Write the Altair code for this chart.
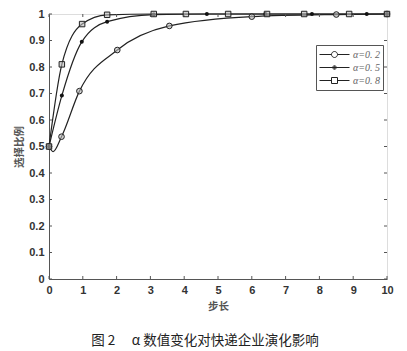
import altair as alt
import pandas as pd

# ---- data ----
labels = ["α=0. 2", "α=0. 5", "α=0. 8"]

x02 = [0, 0.37, 0.90, 2.02, 3.56, 6.0, 8.5, 10]
y02 = [0.5, 0.537, 0.709, 0.864, 0.955, 0.990, 0.998, 1.0]
# extra points on the drawn α=0.2 curve (the small dip just after 0)
x02_curve_extra = [0.12]
y02_curve_extra = [0.481]

x05 = [0, 0.38, 0.97, 1.72, 3.1, 4.67, 6.4, 7.78, 9.4, 10]
y05 = [0.5, 0.692, 0.895, 0.971, 0.998, 1.0, 1.0, 1.0, 1.0, 1.0]

x08 = [0, 0.38, 0.98, 1.72, 3.1, 4.05, 5.3, 6.45, 7.55, 8.88, 10]
y08 = [0.5, 0.81, 0.962, 0.997, 1.0, 1.0, 1.0, 1.0, 1.0, 1.0, 1.0]

x_ticks = list(range(0, 11))
y_ticks = [round(i / 10, 1) for i in range(0, 11)]

# ---- tables ----
pts = pd.concat([
    pd.DataFrame({"x": x02, "y": y02, "s": labels[0]}),
    pd.DataFrame({"x": x05, "y": y05, "s": labels[1]}),
    pd.DataFrame({"x": x08, "y": y08, "s": labels[2]}),
])
curve = pd.concat([
    pd.DataFrame({"x": x02 + x02_curve_extra, "y": y02 + y02_curve_extra, "s": labels[0]}),
    pd.DataFrame({"x": x05, "y": y05, "s": labels[1]}),
    pd.DataFrame({"x": x08, "y": y08, "s": labels[2]}),
]).sort_values(["s", "x"])

W, H = 338, 265
DARK = "#222222"
GREY = "#555555"

xs = alt.Scale(domain=[0, 10], nice=False)
ys = alt.Scale(domain=[0, 1], nice=False)

x_axis = alt.Axis(values=x_ticks, title="步长", ticks=False, grid=False, format="d",
                  labelOverlap=False,
                  labelFont="Liberation Sans", labelFontWeight="bold", labelFontSize=11,
                  labelColor="#333333", labelPadding=5, domainColor=GREY,
                  titleFont="Noto Sans CJK SC", titleFontWeight="bold", titleFontSize=10.5,
                  titleColor="#555555", titlePadding=6, labelFlush=False)
y_axis = alt.Axis(values=y_ticks, title="选择比例", ticks=False, grid=False, format=".1~f",
                  labelOverlap=False,
                  labelFont="Liberation Sans", labelFontWeight="bold", labelFontSize=11,
                  labelColor="#333333", labelPadding=5, domainColor=GREY,
                  titleFont="Noto Sans CJK SC", titleFontWeight="bold", titleFontSize=10.5,
                  titleColor="#555555", titlePadding=4, labelFlush=False)


def X(f):
    return alt.X(f, scale=xs, axis=x_axis)


def Y(f):
    return alt.Y(f, scale=ys, axis=y_axis)


lines = alt.Chart(curve).mark_line(interpolate="monotone", color=DARK, strokeWidth=1.2).encode(
    x=X("x:Q"), y=Y("y:Q"), detail="s:N",
)

circ = alt.Chart(pts[pts.s == labels[0]]).mark_point(
    shape="circle", filled=False, size=32, stroke=DARK, strokeWidth=1, fill="#bbbbbb", fillOpacity=0.6
).encode(x=X("x:Q"), y=Y("y:Q"))
dots = alt.Chart(pts[pts.s == labels[1]]).mark_point(
    shape="circle", filled=True, size=16, color="#111111", opacity=1
).encode(x=X("x:Q"), y=Y("y:Q"))
sqr = alt.Chart(pts[pts.s == labels[2]]).mark_point(
    shape="square", filled=False, size=30, stroke=DARK, strokeWidth=1, fill="#bbbbbb", fillOpacity=0.6
).encode(x=X("x:Q"), y=Y("y:Q"))

# legend carrier (invisible marks, visible legend symbols: line + marker)
p_circle = "M-1,0H-0.2M0.2,0H1M-0.2,0A0.2,0.2 0 1,1 0.2,0A0.2,0.2 0 1,1 -0.2,0"
p_dot = ("M-1,0H1M-0.12,0A0.12,0.12 0 1,1 0.12,0A0.12,0.12 0 1,1 -0.12,0"
         "M-0.06,0A0.06,0.06 0 1,1 0.06,0A0.06,0.06 0 1,1 -0.06,0")
p_square = "M-1,0H-0.2M0.2,0H1M-0.2,-0.2H0.2V0.2H-0.2Z"
leg_df = pd.DataFrame({"x": [0, 0, 0], "y": [0, 0, 0], "s": labels})
leg = alt.Chart(leg_df).mark_point(opacity=0, filled=False, size=900).encode(
    x=X("x:Q"), y=Y("y:Q"),
    shape=alt.Shape("s:N", scale=alt.Scale(domain=labels, range=[p_circle, p_dot, p_square]),
                    legend=alt.Legend(title=None, orient="none", legendX=267, legendY=31,
                                      symbolOpacity=1, symbolStrokeColor=DARK, symbolStrokeWidth=1,
                                      symbolFillColor="#cccccc", symbolSize=900,
                                      clipHeight=13, rowPadding=0, labelOffset=3,
                                      labelFont="Liberation Serif", labelFontStyle="italic",
                                      labelFontSize=10, labelColor="#666666",
                                      strokeColor=GREY, fillColor="white", padding=3,
                                      symbolOffset=0)),
)

# MATLAB-style inside ticks
tx = pd.DataFrame({"v": x_ticks})
ty = pd.DataFrame({"v": y_ticks})
tick_b = alt.Chart(tx).mark_rule(color=GREY, strokeWidth=1).encode(
    x=X("v:Q"), y=alt.value(H), y2=alt.value(H - 3))
tick_t = alt.Chart(tx).mark_rule(color=GREY, strokeWidth=1).encode(
    x=X("v:Q"), y=alt.value(0), y2=alt.value(3))
tick_l = alt.Chart(ty).mark_rule(color=GREY, strokeWidth=1).encode(
    y=Y("v:Q"), x=alt.value(0), x2=alt.value(3))
tick_r = alt.Chart(ty).mark_rule(color=GREY, strokeWidth=1).encode(
    y=Y("v:Q"), x=alt.value(W), x2=alt.value(W - 3))

chart = alt.layer(lines, tick_b, tick_t, tick_l, tick_r, circ, dots, sqr, leg).properties(
    width=W, height=H,
    autosize=alt.AutoSizeParams(type="none"),
    padding={"left": 49, "top": 14, "right": 20, "bottom": 72},
    title=alt.TitleParams("图 2　 α 数值变化对快递企业演化影响", orient="bottom", anchor="middle",
                          font="Noto Sans CJK SC", fontSize=13.5, fontWeight="normal",
                          color="#222222", offset=22, dx=-13),
).configure_view(stroke=GREY, strokeWidth=1).configure(background="white")

chart.save("out.html", embed_options={"renderer": "svg", "actions": False})
